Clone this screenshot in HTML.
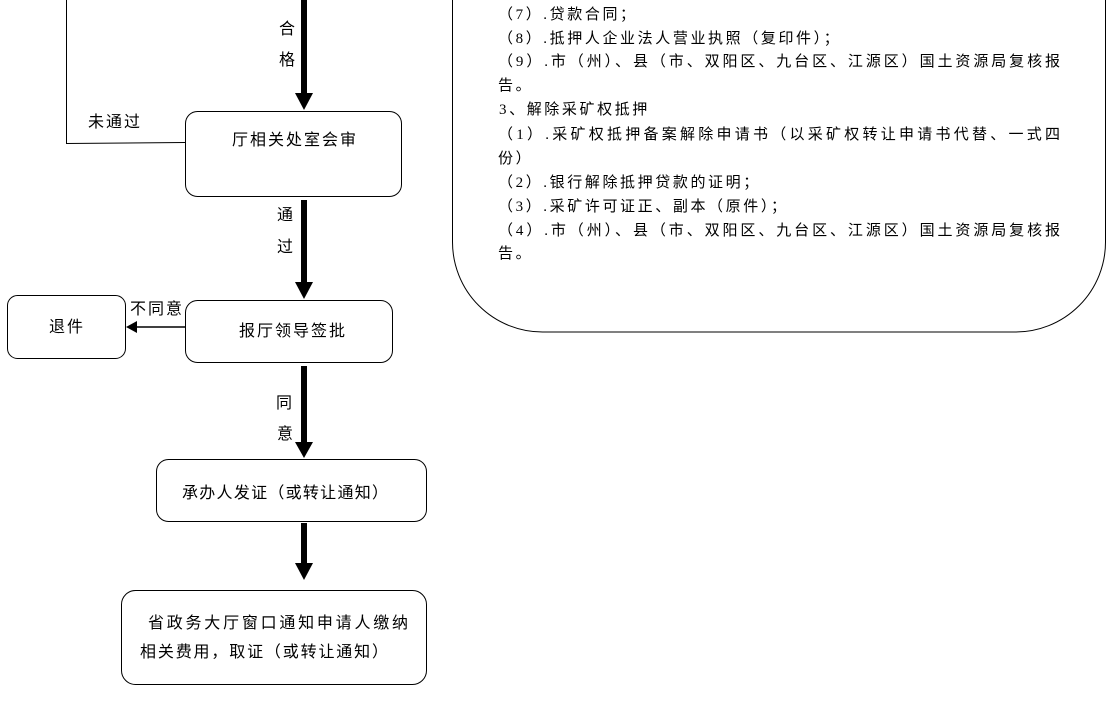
<!DOCTYPE html>
<html><head><meta charset="utf-8"><style>
html,body{margin:0;padding:0;background:#fff;width:1119px;height:716px;overflow:hidden}
svg text{font-family:"Liberation Serif","Noto Sans CJK SC",serif;font-size:15px;fill:#000;font-variant-ligatures:none;font-feature-settings:"liga" 0,"clig" 0,"dlig" 0;}
.r{letter-spacing:2.6px}
.s{font-family:'Liberation Sans','Noto Sans CJK SC',sans-serif;font-size:16px}
</style></head><body>
<svg width="1119" height="716" viewBox="0 0 1119 716" xmlns="http://www.w3.org/2000/svg">
<g fill="none" stroke="#000" stroke-width="1">
<rect x="452.5" y="-120" width="653" height="452" rx="90" ry="90"/>
<rect x="185.5" y="111.5" width="216" height="85" rx="12"/>
<rect x="185.5" y="300.5" width="207" height="62" rx="12"/>
<rect x="7.5" y="295.5" width="118" height="63" rx="10"/>
<rect x="156.5" y="459.5" width="270" height="62" rx="12"/>
<rect x="121.5" y="590.5" width="305" height="94" rx="14"/>
<polyline points="66.5,0 66.5,143.5 185,142.5"/>
<line x1="185" y1="327" x2="136" y2="327" stroke-width="1.5"/>
</g>
<polygon points="126,327 137,321 137,333" fill="#000"/>
<g fill="#000">
<rect x="301" y="0" width="6" height="94"/><polygon points="295,93 313,93 304,110"/>
<rect x="301" y="200" width="6" height="82"/><polygon points="295,282 313,282 304,299"/>
<rect x="301" y="366" width="6" height="77"/><polygon points="295,442 313,442 304,458"/>
<rect x="301" y="523" width="6" height="41"/><polygon points="295,563 313,563 304,580"/>
</g>
<text class="s" x="279" y="34">合</text>
<text class="s" x="279" y="65">格</text>
<text class="s" x="88" y="127" textLength="52">未通过</text>
<text class="s" x="232" y="145" textLength="124">厅相关处室会审</text>
<text class="s" x="277" y="220">通</text>
<text class="s" x="277" y="252">过</text>
<text class="s" x="130" y="314" textLength="52">不同意</text>
<text class="s" x="49" y="332" textLength="34">退件</text>
<text class="s" x="239" y="336" textLength="106">报厅领导签批</text>
<text class="s" x="276" y="408">同</text>
<text class="s" x="277" y="439">意</text>
<text class="s" x="182" y="498" textLength="206">承办人发证（或转让通知）</text>
<text class="s" x="148" y="628" textLength="260">省政务大厅窗口通知申请人缴纳</text>
<text class="s" x="140" y="657" textLength="248">相关费用，取证（或转让通知）</text>

<text class="r" x="498" y="19">（7）.贷款合同；</text>
<text class="r" x="498" y="43">（8）.抵押人企业法人营业执照（复印件）；</text>
<text x="498" y="66" textLength="562">（9）.市（州）、县（市、双阳区、九台区、江源区）国土资源局复核报</text>
<text class="r" x="498" y="90">告。</text>
<text class="r" x="499" y="114">3、解除采矿权抵押</text>
<text x="498" y="139" textLength="562">（1）.采矿权抵押备案解除申请书（以采矿权转让申请书代替、一式四</text>
<text class="r" x="498" y="163">份）</text>
<text class="r" x="498" y="187">（2）.银行解除抵押贷款的证明；</text>
<text class="r" x="498" y="211">（3）.采矿许可证正、副本（原件）；</text>
<text x="498" y="235" textLength="562">（4）.市（州）、县（市、双阳区、九台区、江源区）国土资源局复核报</text>
<text class="r" x="498" y="258">告。</text>
</svg>
</body></html>
